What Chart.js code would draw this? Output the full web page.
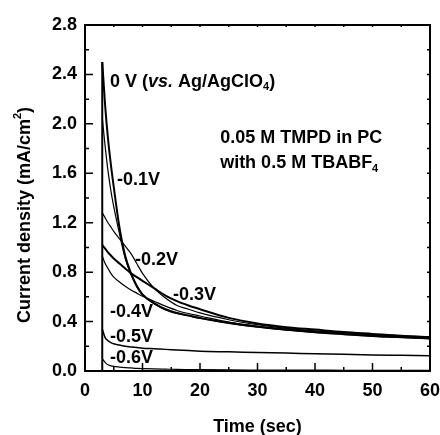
<!DOCTYPE html>
<html>
<head>
<meta charset="utf-8">
<script src="https://cdn.jsdelivr.net/npm/chart.js@4.4.1/dist/chart.umd.min.js"></script>
<style>
  html, body { margin: 0; padding: 0; background: #fff; }
  #wrap { width: 440px; height: 435px; position: relative; }
</style>
</head>
<body>
<div id="wrap"><canvas id="chart"></canvas></div>
<script>
// time axis (sec), shared by all curves
const times = [3, 3.5, 4, 4.5, 5, 6, 7, 8, 9, 10, 12, 14, 16, 18, 20, 25, 30, 35, 40, 45, 50, 55, 60];

// current density (mA/cm2) for each applied potential
const j0V   = [2.50, 2.15, 1.88, 1.67, 1.49, 1.16, 0.93, 0.79, 0.69, 0.62, 0.55, 0.50, 0.47, 0.45, 0.43, 0.39, 0.36, 0.335, 0.315, 0.30, 0.285, 0.275, 0.265];
const jM01V = [2.05, 1.82, 1.62, 1.46, 1.33, 1.11, 0.91, 0.78, 0.68, 0.615, 0.545, 0.495, 0.465, 0.445, 0.425, 0.385, 0.355, 0.33, 0.31, 0.295, 0.28, 0.27, 0.26];
const jM02V = [1.28, 1.24, 1.20, 1.165, 1.13, 1.07, 1.01, 0.95, 0.87, 0.79, 0.67, 0.59, 0.53, 0.50, 0.47, 0.415, 0.375, 0.345, 0.325, 0.31, 0.295, 0.285, 0.275];
const jM03V = [1.02, 0.99, 0.96, 0.935, 0.91, 0.87, 0.83, 0.79, 0.76, 0.73, 0.67, 0.61, 0.565, 0.53, 0.50, 0.43, 0.385, 0.355, 0.335, 0.315, 0.30, 0.285, 0.275];
const jM04V = [0.93, 0.87, 0.83, 0.79, 0.76, 0.72, 0.685, 0.655, 0.63, 0.605, 0.565, 0.525, 0.49, 0.465, 0.445, 0.395, 0.36, 0.335, 0.315, 0.30, 0.285, 0.275, 0.265];
const jM05V = [0.34, 0.27, 0.245, 0.23, 0.22, 0.21, 0.20, 0.195, 0.19, 0.185, 0.18, 0.175, 0.17, 0.165, 0.16, 0.155, 0.15, 0.145, 0.14, 0.135, 0.13, 0.127, 0.124];
const jM06V = [0.10, 0.07, 0.05, 0.042, 0.037, 0.032, 0.028, 0.025, 0.022, 0.02, 0.017, 0.015, 0.013, 0.012, 0.011, 0.009, 0.008, 0.007, 0.007, 0.006, 0.006, 0.005, 0.005];

const seriesNames = ["0 V", "-0.1V", "-0.2V", "-0.3V", "-0.4V", "-0.5V", "-0.6V"];
const seriesValues = [j0V, jM01V, jM02V, jM03V, jM04V, jM05V, jM06V];

const xTicks = [0, 10, 20, 30, 40, 50, 60];
const yTicks = [0.0, 0.4, 0.8, 1.2, 1.6, 2.0, 2.4, 2.8];

const FONT = "Liberation Sans, Arial, Helvetica, sans-serif";
const lineWidths = [2, 1.2, 1.2, 2, 1.2, 1.5, 1.2];

function pts(vals) {
  return vals.map((v, i) => ({ x: times[i], y: v }));
}

const datasets = seriesValues.map((vals, i) => ({
  label: seriesNames[i],
  data: pts(vals),
  borderColor: "#000",
  borderWidth: lineWidths[i],
  pointRadius: 0,
  fill: false,
  cubicInterpolationMode: "monotone"
}));

// potential step at t0: vertical rise from zero to the highest peak
const peak = Math.max(...seriesValues.map((v) => v[0]));
datasets.push({
  label: "step",
  data: [{ x: times[0], y: 0 }, { x: times[0], y: peak }],
  borderColor: "#000",
  borderWidth: 2,
  pointRadius: 0,
  tension: 0
});

// draw a run of text pieces, with italic / sub / sup pieces
function richText(ctx, parts, x, y, size) {
  let cx = x;
  parts.forEach((p) => {
    const s = p.sub || p.sup ? Math.round(size * 0.6) : size;
    ctx.font = (p.it ? "italic " : "") + "bold " + s + "px " + FONT;
    let dy = 0;
    if (p.sub) dy = size * 0.3;
    if (p.sup) dy = -size * 0.38;
    ctx.fillText(p.t, cx, y + dy);
    cx += ctx.measureText(p.t).width;
  });
}

const labels = [
  { x: 4.35, y: 2.34, parts: [{ t: "0 V (" }, { t: "vs.", it: true }, { t: " Ag/AgClO" }, { t: "4", sub: true }, { t: ")" }] },
  { x: 23.5, y: 1.885, parts: [{ t: "0.05 M TMPD in PC" }] },
  { x: 23.5, y: 1.68, parts: [{ t: "with 0.5 M TBABF" }, { t: "4", sub: true }] },
  { x: 5.57, y: 1.545, parts: [{ t: "-0.1V" }] },
  { x: 8.7, y: 0.90, parts: [{ t: "-0.2V" }] },
  { x: 15.3, y: 0.615, parts: [{ t: "-0.3V" }] },
  { x: 4.35, y: 0.477, parts: [{ t: "-0.4V" }] },
  { x: 4.35, y: 0.275, parts: [{ t: "-0.5V" }] },
  { x: 4.35, y: 0.105, parts: [{ t: "-0.6V" }] }
];

const framePlugin = {
  id: "frame",
  afterDatasetsDraw(chart) {
    const { ctx, chartArea: a, scales } = chart;
    const xs = scales.x, ys = scales.y;
    ctx.save();
    ctx.strokeStyle = "#000";
    ctx.lineWidth = 2;
    ctx.strokeRect(a.left, a.top, a.right - a.left, a.bottom - a.top);

    // inward ticks, major on the labelled values, minor halfway
    ctx.lineWidth = 1.5;
    ctx.beginPath();
    for (let v = 0; v <= 60; v += 5) {
      const px = xs.getPixelForValue(v);
      const len = v % 10 === 0 ? 8 : 4;
      ctx.moveTo(px, a.bottom); ctx.lineTo(px, a.bottom - len);
      ctx.moveTo(px, a.top); ctx.lineTo(px, a.top + 2);
    }
    for (let k = 0; k <= 14; k++) {
      const py = ys.getPixelForValue(k * 0.2);
      const len = k % 2 === 0 ? 8 : 4;
      ctx.moveTo(a.left, py); ctx.lineTo(a.left + len, py);
      ctx.moveTo(a.right, py); ctx.lineTo(a.right - 3, py);
    }
    ctx.stroke();

    // annotations
    ctx.fillStyle = "#000";
    ctx.textBaseline = "middle";
    ctx.textAlign = "left";
    labels.forEach((l) => {
      richText(ctx, l.parts, xs.getPixelForValue(l.x), ys.getPixelForValue(l.y), 18);
    });

    // axis titles
    ctx.textAlign = "left";
    ctx.font = "bold 18px " + FONT;
    const xt = "Time (sec)";
    ctx.fillText(xt, (a.left + a.right) / 2 - ctx.measureText(xt).width / 2, 427);

    const yParts = [{ t: "Current density (mA/cm" }, { t: "2", sup: true }, { t: ")" }];
    let w = 0;
    yParts.forEach((p) => {
      ctx.font = "bold " + (p.sup ? 11 : 18) + "px " + FONT;
      w += ctx.measureText(p.t).width;
    });
    ctx.translate(25, 215);
    ctx.rotate(-Math.PI / 2);
    richText(ctx, yParts, -w / 2, 0, 18);
    ctx.restore();
  }
};

new Chart(document.getElementById("chart"), {
  type: "line",
  data: { datasets },
  options: {
    responsive: true,
    maintainAspectRatio: false,
    animation: false,
    layout: { padding: { top: 25, right: 10, left: 0, bottom: 0 } },
    plugins: { legend: { display: false }, tooltip: { enabled: false } },
    scales: {
      x: {
        type: "linear",
        min: 0,
        max: 60,
        afterBuildTicks: (s) => { s.ticks = xTicks.map((v) => ({ value: v })); },
        afterFit: (s) => { s.height = 64; s.paddingLeft = 0; s.paddingRight = 0; },
        grid: { display: false, drawTicks: false },
        border: { display: false },
        ticks: { color: "#000", padding: 9, maxRotation: 0, font: { family: FONT, size: 18, weight: "bold" } }
      },
      y: {
        type: "linear",
        min: 0,
        max: 2.8,
        afterBuildTicks: (s) => { s.ticks = yTicks.map((v) => ({ value: v })); },
        afterFit: (s) => { s.width = 85; s.paddingTop = 0; s.paddingBottom = 0; },
        grid: { display: false, drawTicks: false },
        border: { display: false },
        ticks: { color: "#000", padding: 8, callback: (v) => Number(v).toFixed(1), font: { family: FONT, size: 18, weight: "bold" } }
      }
    }
  },
  plugins: [framePlugin]
});
</script>
</body>
</html>
